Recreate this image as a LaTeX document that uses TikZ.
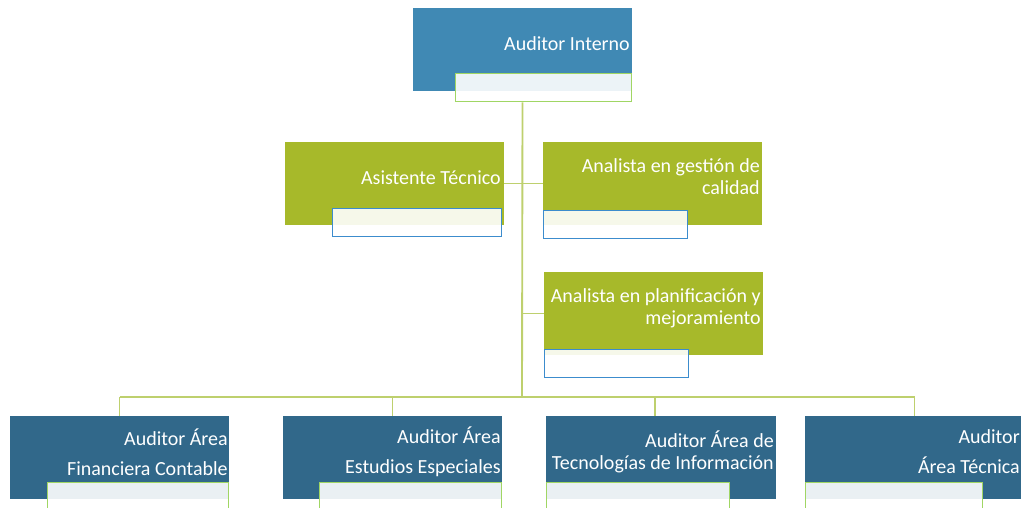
\documentclass[tikz,border=0pt]{standalone}
\usepackage{fontspec}
\setmainfont{Carlito}
\usetikzlibrary{positioning}
\usepackage{xcolor}
\definecolor{topblue}{RGB}{64,137,180}
\definecolor{olive}{RGB}{167,185,42}
\definecolor{darkteal}{RGB}{49,104,138}
\definecolor{linegreen}{RGB}{190,208,110}
\definecolor{subgreen}{RGB}{160,214,100}
\definecolor{subblue}{RGB}{60,140,205}

\begin{document}
\begin{tikzpicture}[
x=0.75pt, y=-0.75pt,
box/.style={rectangle, inner sep=0pt, outer sep=0pt, anchor=north west,
minimum width=164.25pt, minimum height=62.25pt},
topbox/.style={box, fill=topblue},
midbox/.style={box, fill=olive},
lowbox/.style={box, fill=darkteal},
sub/.style={rectangle, inner sep=0pt, minimum height=21pt, line width=1pt,
fill=white, fill opacity=0.9, text opacity=1},
subg/.style={sub, draw=subgreen},
subb/.style={sub, draw=subblue},
txt/.style={text=white, inner sep=0pt, anchor=east, align=right,
font=\fontsize{15}{16.5}\selectfont},
conn/.style={draw=linegreen, line width=1.4pt}
]
\useasboundingbox (0,0) rectangle (1021,507);
\clip (0,0) rectangle (1021,507);

\node[topbox] (interno) at (413,8) {};
\node[subg, anchor=north east, minimum width=132pt] (internosub) at (632,73) {};
\node[txt] (internotxt) at (630,44) {Auditor Interno};

\node[midbox] (asistente) at (285,142) {};
\node[subb, anchor=north east, minimum width=126.75pt] (asistentesub) at (502,208) {};
\node[txt] (asistentetxt) at (501,178) {Asistente Técnico};

\node[midbox] (gestion) at (543,142) {};
\node[subb, anchor=north west, minimum width=108pt] (gestionsub) at (543,210) {};
\node[txt] (gestiontxt) at (760,177) {Analista en gestión de\\calidad};

\node[midbox] (planif) at (544,272) {};
\node[subb, anchor=north west, minimum width=108pt] (planifsub) at (544,349) {};
\node[txt] (planiftxt) at (761,308) {Analista en planificación y\\mejoramiento};

\node[lowbox] (financiera) at (10,416) {};
\node[subg, anchor=north east, minimum width=135.75pt] (financierasub) at (229,482) {};
\node[txt] (financieratxt) at (228,452) {Auditor Área\\[6pt]Financiera Contable};

\node[lowbox] (especiales) at (283,416) {};
\node[subg, anchor=north east, minimum width=136.5pt] (especialessub) at (502,482) {};
\node[txt] (especialestxt) at (501,452) {Auditor Área\\[6pt]Estudios Especiales};

\node[lowbox, minimum width=172.5pt] (tecnologias) at (546,416) {};
\node[subg, anchor=north west, minimum width=137.25pt] (tecnologiassub) at (546,482) {};
\node[txt] (tecnologiastxt) at (774,452) {Auditor Área de\\Tecnologías de Información};

\node[lowbox] (tecnica) at (805,416) {};
\node[subg, anchor=north west, minimum width=132.75pt] (tecnicasub) at (805,482) {};
\node[txt] (tecnicatxt) at (1020,452) {Auditor\\[6pt]Área Técnica};

\coordinate (bus) at (522,397);

\draw[conn] (interno.south |- internosub.south) -- (bus);
\draw[conn] (asistente.east) -- (gestion.west);
\draw[conn] (bus |- planif.west) -- (planif.west);
\draw[conn] (bus -| financiera.north) -- (bus -| tecnica.north);
\draw[conn] (bus -| financiera.north) -- (financiera.north);
\draw[conn] (bus -| especiales.north) -- (especiales.north);
\draw[conn] (bus -| tecnologias.north) ++(-4.5pt,0) -- ([xshift=-4.5pt]tecnologias.north);
\draw[conn] (bus -| tecnica.north) -- (tecnica.north);

\end{tikzpicture}
\end{document}
